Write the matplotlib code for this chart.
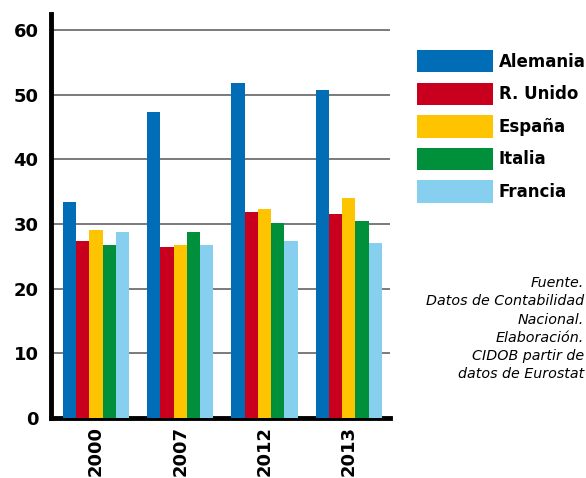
import matplotlib
matplotlib.use("Agg")
import matplotlib.pyplot as plt
import numpy as np
from matplotlib.patches import Patch

years = ["2000", "2007", "2012", "2013"]
countries = ["Alemania", "R. Unido", "España", "Italia", "Francia"]
alemania = [33.4, 47.3, 51.9, 50.7]
r_unido = [27.4, 26.4, 31.8, 31.5]
espana = [29.1, 26.8, 32.4, 34.1]
italia = [26.8, 28.8, 30.1, 30.4]
francia = [28.8, 26.8, 27.4, 27.1]
series = [alemania, r_unido, espana, italia, francia]
colors = ["#006DB6", "#C8001E", "#FFC400", "#008F3A", "#87CFEF"]
yticks = [0, 10, 20, 30, 40, 50, 60]
note_lines = ["Fuente.", "Datos de Contabilidad", "Nacional.", "Elaboración.",
              "CIDOB partir de", "datos de Eurostat"]

W, H = 586, 478
fig = plt.figure(figsize=(W / 100, H / 100), dpi=100)
ax = fig.add_axes([51 / W, 1 - 418 / H, (390 - 51) / W, (418 - 14) / H])

x = np.arange(len(years))
bw = 0.157
for i, (vals, c) in enumerate(zip(series, colors)):
    ax.bar(x + (i - 2) * bw, vals, width=bw, color=c, label=countries[i], zorder=3, linewidth=0)

ax.set_xlim(-0.535, 3.49)
ax.set_ylim(0, 62.5)
ax.set_yticks(yticks)
ax.set_yticklabels([str(t) for t in yticks], fontsize=13, fontweight="bold")
ax.set_xticks(x)
ax.set_xticklabels(years, rotation=90, fontsize=13, fontweight="bold")
ax.tick_params(axis="both", length=0)
ax.tick_params(axis="y", pad=9)
ax.tick_params(axis="x", pad=6)
ax.yaxis.grid(True, color="#7a7a7a", linewidth=1.4, zorder=0)
ax.set_axisbelow(True)
for s in ["top", "right"]:
    ax.spines[s].set_visible(False)
ax.spines["left"].set_linewidth(3.5)
ax.spines["bottom"].set_linewidth(3.5)
ax.spines["left"].set_color("black")
ax.spines["bottom"].set_color("black")

handles = [Patch(facecolor=c, edgecolor="none") for c in colors]
fig.legend(handles, countries, loc="upper left", bbox_to_anchor=(417 / W, 1 - 50 / H),
           frameon=False, prop={"size": 12, "weight": "bold"},
           handlelength=4.55, handleheight=1.68, labelspacing=0.62, handletextpad=0.35,
           borderpad=0, borderaxespad=0)

y0 = 283
for k, line in enumerate(note_lines):
    fig.text(584 / W, 1 - (y0 + k * 18.3) / H, line, ha="right", va="center",
             fontsize=10.3, style="italic")

fig.savefig("out.png", dpi=100)
